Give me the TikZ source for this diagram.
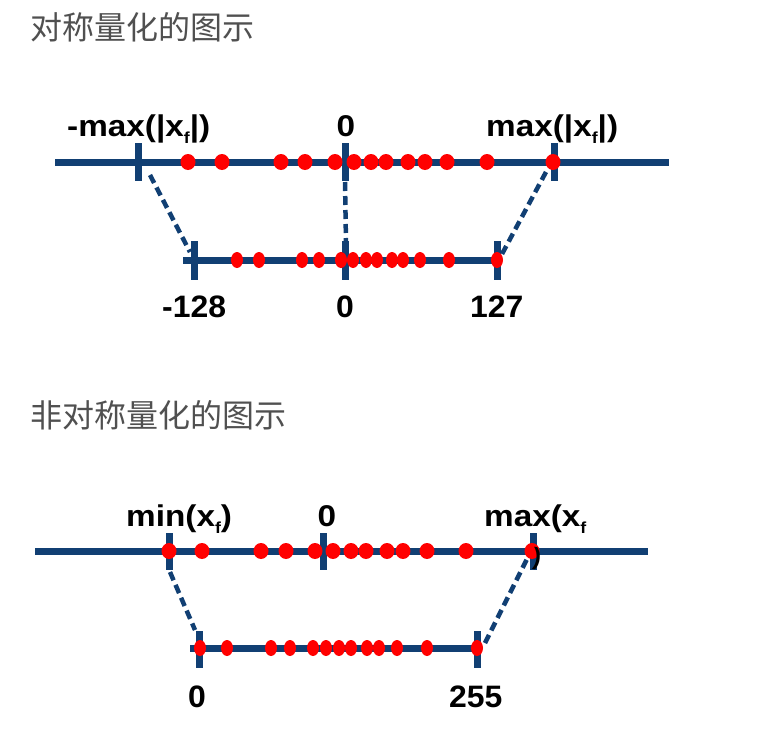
\documentclass[tikz,border=0pt]{standalone}
\usepackage{fontspec}
\setmainfont{Liberation Sans}
\newfontfamily\cjk{Noto Sans CJK SC}
\usetikzlibrary{shapes.geometric}
\definecolor{axisblue}{RGB}{17,63,115}
\definecolor{dotred}{RGB}{255,0,0}
\definecolor{titlegray}{RGB}{80,80,80}
\newcommand\subf{\raisebox{-0.24em}{\fontsize{16}{16}\selectfont f}}
\tikzset{
  axisline/.style={draw=axisblue, line width=7pt},
  tickmark/.style={draw=axisblue, line width=7pt},
  dashlink/.style={draw=axisblue, line width=4.5pt, dash pattern=on 9pt off 5pt},
  bigdot/.style={ellipse, fill=dotred, inner sep=0pt, minimum width=15pt, minimum height=16pt},
  smalldot/.style={ellipse, fill=dotred, inner sep=0pt, minimum width=12pt, minimum height=16pt},
  lbl/.style={font=\fontsize{30}{30}\selectfont\bfseries, inner sep=0pt, text=black, xscale=1.11},
  numlbl/.style={font=\fontsize{31}{31}\selectfont\bfseries, inner sep=0pt, text=black, xscale=1.03},
  titletext/.style={font=\cjk\fontsize{32}{32}\selectfont, text=titlegray, inner sep=0pt},
}
\begin{document}
\begin{tikzpicture}[x=1pt,y=-1pt]
\useasboundingbox (0,0) rectangle (784,750);
% ---------- titles ----------
\node[titletext, anchor=west] (t1) at (30,27) {对称量化的图示};
\node[titletext, anchor=west] (t2) at (30,415) {非对称量化的图示};

% ---------- diagram 1 ----------
\coordinate (a1l) at (55,162); \coordinate (a1r) at (669,162);
\draw[axisline] (a1l) -- (a1r);
\coordinate (k1a) at (138,143); \coordinate (k1b) at (138,181);
\coordinate (k2a) at (345,143); \coordinate (k2b) at (345,181);
\coordinate (k3a) at (554,143); \coordinate (k3b) at (554,181);
\draw[tickmark] (k1a) -- (k1b);
\draw[tickmark] (k2a) -- (k2b);
\draw[tickmark] (k3a) -- (k3b);
\coordinate (b1l) at (183,260); \coordinate (b1r) at (500,260);
\draw[axisline] (b1l) -- (b1r);
\coordinate (m1a) at (194,241); \coordinate (m1b) at (194,280);
\coordinate (m2a) at (345,241); \coordinate (m2b) at (345,280);
\coordinate (m3a) at (497,241); \coordinate (m3b) at (497,280);
\draw[tickmark] (m1a) -- (m1b);
\draw[tickmark] (m2a) -- (m2b);
\draw[tickmark] (m3a) -- (m3b);
\foreach \x [count=\i] in {188,222,281,305,335,354,371,386,408,425,447,487,553}
  \node[bigdot] (d1t\i) at (\x,162) {};
\foreach \x [count=\i] in {237,259,302,319,341,353,366,377,392,403,420,449,497}
  \node[smalldot] (d1b\i) at (\x,260) {};
\coordinate (l1s) at (150,175); \coordinate (l1e) at (190,252);
\coordinate (l2s) at (345,182); \coordinate (l2e) at (346,244);
\coordinate (l3s) at (546,172); \coordinate (l3e) at (502,254);
\draw[dashlink] (l1s) -- (l1e);
\draw[dashlink] (l2s) -- (l2e);
\draw[dashlink] (l3s) -- (l3e);
\node[lbl, anchor=base west] (n1) at (67,136) {-max(|x\subf|)};
\node[lbl, anchor=base] (n2) at (346,136) {0};
\node[lbl, anchor=base west] (n3) at (486,136) {max(|x\subf|)};
\node[numlbl, anchor=base west] (n4) at (162,317) {-128};
\node[numlbl, anchor=base] (n5) at (345,317) {0};
\node[numlbl, anchor=base west] (n6) at (470,317) {127};

% ---------- diagram 2 ----------
\coordinate (a2l) at (35,551); \coordinate (a2r) at (648,551);
\draw[axisline] (a2l) -- (a2r);
\coordinate (p1a) at (169,533); \coordinate (p1b) at (169,570);
\coordinate (p2a) at (323,533); \coordinate (p2b) at (323,570);
\coordinate (p3a) at (533,533); \coordinate (p3b) at (533,570);
\draw[tickmark] (p1a) -- (p1b);
\draw[tickmark] (p2a) -- (p2b);
\draw[tickmark] (p3a) -- (p3b);
\coordinate (b2l) at (190,648); \coordinate (b2r) at (480,648);
\draw[axisline] (b2l) -- (b2r);
\coordinate (q1a) at (199,631); \coordinate (q1b) at (199,668);
\coordinate (q2a) at (477,631); \coordinate (q2b) at (477,668);
\draw[tickmark] (q1a) -- (q1b);
\draw[tickmark] (q2a) -- (q2b);
\foreach \x [count=\i] in {169,202,261,286,315,333,351,366,387,403,427,466,532}
  \node[bigdot] (d2t\i) at (\x,551) {};
\foreach \x [count=\i] in {200,227,271,290,313,326,339,351,367,379,397,427,477}
  \node[smalldot] (d2b\i) at (\x,648) {};
\coordinate (r1s) at (170,572); \coordinate (r1e) at (195,630);
\coordinate (r2s) at (485,643); \coordinate (r2e) at (528,557);
\draw[dashlink] (r1s) -- (r1e);
\draw[dashlink] (r2s) -- (r2e);
\node[lbl, anchor=base west] (o1) at (126,526) {min(x\subf)};
\node[lbl, anchor=base] (o2) at (327,526) {0};
\node[lbl, anchor=base west] (o3) at (484,526) {max(x\subf};
\node[font=\fontsize{24}{24}\selectfont\bfseries, inner sep=0pt, text=black, rotate=-6] (o4) at (537,559) {)};
\node[numlbl, anchor=base] (o5) at (197,707) {0};
\node[numlbl, anchor=base west] (o6) at (449,707) {255};
\end{tikzpicture}
\end{document}
